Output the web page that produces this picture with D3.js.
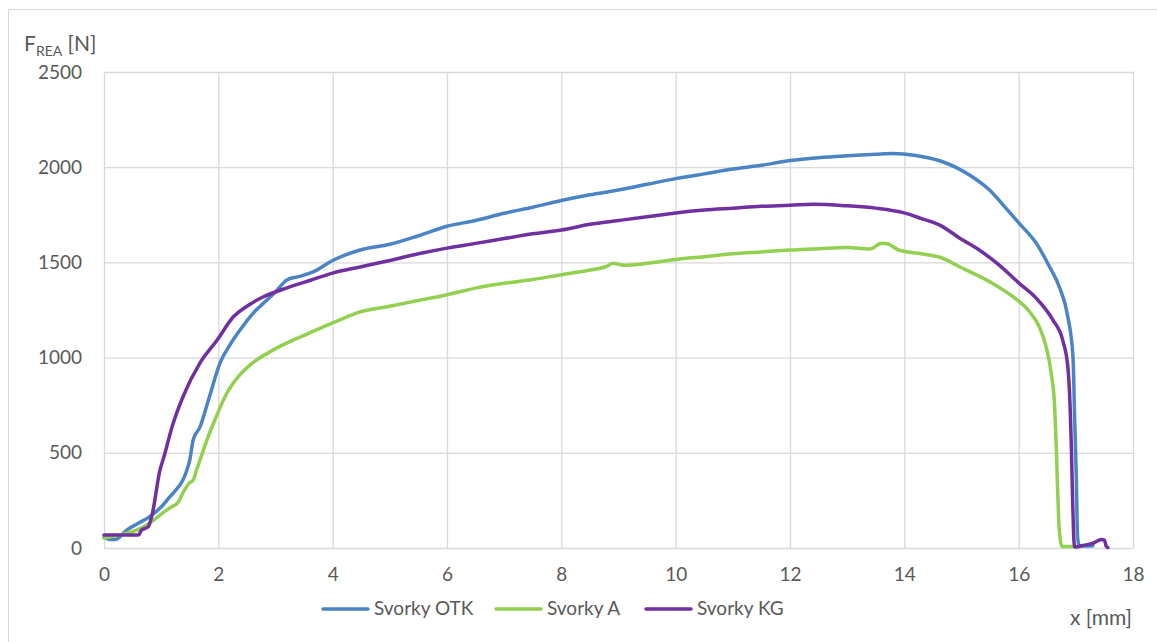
<!DOCTYPE html>
<html>
<head>
<meta charset="utf-8">
<script src="https://cdn.jsdelivr.net/npm/d3@7"></script>
<style>
  html, body { margin: 0; padding: 0; background: #fff; }
  svg text { font-family: Lato, "Open Sans", sans-serif; fill: #595959; }
</style>
</head>
<body>
<svg id="chart" width="1157" height="642"></svg>
<script>
// Displacement x [mm] and reaction force F_REA [N] for each clamp type
const xOTK = [0, 0.1, 0.2, 0.4, 0.6, 0.8, 1.0, 1.15, 1.3, 1.38, 1.45, 1.5, 1.56, 1.68, 1.85, 2.03, 2.2, 2.38, 2.6, 2.85, 3.0, 3.2, 3.4, 3.66, 4.0, 4.48, 5.0, 5.5, 6.0, 6.5, 7.0, 7.5, 8.0, 8.5, 9.0, 9.5, 10.0, 10.5, 11.0, 11.5, 12.0, 12.5, 13.0, 13.5, 13.8, 14.2, 14.62, 15.14, 15.49, 15.78, 16.01, 16.31, 16.54, 16.71, 16.86, 16.95, 16.98, 17.01, 17.03, 17.06, 17.3];
const fOTK = [55, 45, 45, 95, 130, 165, 215, 268, 320, 357, 410, 462, 567, 636, 800, 972, 1065, 1145, 1230, 1302, 1345, 1408, 1425, 1450, 1510, 1565, 1595, 1640, 1690, 1720, 1758, 1790, 1825, 1855, 1880, 1910, 1940, 1965, 1990, 2010, 2035, 2050, 2060, 2068, 2072, 2062, 2034, 1959, 1880, 1784, 1705, 1600, 1477, 1372, 1215, 1005, 672, 350, 60, 10, 12];

const xA = [0, 0.3, 0.58, 0.8, 0.98, 1.15, 1.3, 1.4, 1.49, 1.56, 1.62, 1.68, 1.8, 1.95, 2.15, 2.35, 2.6, 2.9, 3.2, 3.6, 4.0, 4.48, 5.0, 5.5, 6.0, 6.5, 7.0, 7.5, 8.0, 8.5, 8.8, 8.9, 9.1, 9.5, 10.0, 10.5, 11.0, 11.5, 12.0, 12.5, 13.0, 13.4, 13.6, 13.7, 13.9, 14.3, 14.62, 15.02, 15.49, 15.9, 16.19, 16.36, 16.48, 16.57, 16.63, 16.66, 16.68, 16.7, 16.73, 16.76, 16.95];
const fA = [52, 70, 95, 130, 173, 210, 242, 300, 341, 357, 410, 462, 567, 680, 814, 900, 972, 1030, 1077, 1130, 1182, 1240, 1270, 1300, 1330, 1365, 1390, 1410, 1435, 1460, 1480, 1495, 1485, 1495, 1515, 1530, 1545, 1555, 1565, 1572, 1578, 1570, 1600, 1598, 1565, 1545, 1527, 1469, 1399, 1320, 1241, 1162, 1057, 917, 742, 515, 320, 150, 40, 8, 8];

const xKG = [0, 0.3, 0.6, 0.66, 0.77, 0.84, 0.98, 1.05, 1.19, 1.38, 1.68, 1.98, 2.26, 2.5, 2.78, 3.2, 3.6, 4.0, 4.48, 5.0, 5.5, 6.0, 6.5, 7.0, 7.5, 8.0, 8.5, 9.0, 9.5, 10.0, 10.5, 11.0, 11.5, 12.0, 12.4, 13.0, 13.5, 14.0, 14.3, 14.62, 14.97, 15.31, 15.66, 16.01, 16.31, 16.6, 16.77, 16.86, 16.9, 16.92, 16.94, 16.96, 16.98, 17.1, 17.3, 17.45, 17.5, 17.53, 17.56];
const fKG = [68, 68, 68, 95, 110, 173, 410, 480, 636, 793, 972, 1092, 1213, 1270, 1318, 1366, 1405, 1444, 1476, 1510, 1545, 1575, 1600, 1625, 1650, 1670, 1700, 1720, 1740, 1760, 1775, 1785, 1795, 1800, 1805, 1797, 1785, 1760, 1730, 1696, 1627, 1565, 1486, 1390, 1311, 1197, 1092, 952, 742, 550, 300, 80, 5, 12, 25, 45, 42, 10, 2];

const seriesNames = ["Svorky OTK", "Svorky A", "Svorky KG"];
const seriesColors = ["#4a84c4", "#92d050", "#7030a0"];
const seriesX = [xOTK, xA, xKG];
const seriesF = [fOTK, fA, fKG];

const xTicks = [0, 2, 4, 6, 8, 10, 12, 14, 16, 18];
const yTicks = [0, 500, 1000, 1500, 2000, 2500];

const svg = d3.select("#chart");
const grid = "#d9d9d9";

// outer chart frame
svg.append("rect")
  .attr("x", 8.5).attr("y", 9.5)
  .attr("width", 1160).attr("height", 640)
  .attr("fill", "none").attr("stroke", grid).attr("stroke-width", 1);

const plot = { left: 104, right: 1133, top: 72, bottom: 548 };
const x = d3.scaleLinear().domain([0, 18]).range([plot.left, plot.right]);
const y = d3.scaleLinear().domain([0, 2500]).range([plot.bottom, plot.top]);

// gridlines
const g = svg.append("g");
g.selectAll("line.vg").data(xTicks).join("line")
  .attr("x1", d => x(d) + 0.5).attr("x2", d => x(d) + 0.5)
  .attr("y1", plot.top).attr("y2", plot.bottom)
  .attr("stroke", grid).attr("stroke-width", 1.3);
g.selectAll("line.hg").data(yTicks).join("line")
  .attr("x1", plot.left).attr("x2", plot.right)
  .attr("y1", d => y(d) + 0.5).attr("y2", d => y(d) + 0.5)
  .attr("stroke", grid).attr("stroke-width", 1.3);

// axes: tick labels only
const yAxis = d3.axisLeft(y).tickValues(yTicks).tickFormat(d3.format("d")).tickSize(0).tickPadding(22);
const ya = svg.append("g").attr("transform", `translate(${plot.left},0)`).call(yAxis);
ya.select(".domain").remove();
ya.selectAll("text").attr("font-size", 19).attr("font-family", "Lato, sans-serif").attr("fill", "#595959");

const xAxis = d3.axisBottom(x).tickValues(xTicks).tickFormat(d3.format("d")).tickSize(0).tickPadding(20);
const xa = svg.append("g").attr("transform", `translate(0,${plot.bottom})`).call(xAxis);
xa.select(".domain").remove();
xa.selectAll("text").attr("font-size", 19).attr("font-family", "Lato, sans-serif").attr("fill", "#595959");

// axis titles
const yt = svg.append("text").attr("x", 24).attr("y", 51).attr("font-size", 21);
yt.append("tspan").text("F");
yt.append("tspan").attr("font-size", 14).attr("dy", 5).text("REA");
yt.append("tspan").attr("dy", -5).text(" [N]");

svg.append("text").attr("x", 1132).attr("y", 625)
  .attr("text-anchor", "end").attr("font-size", 21).text("x [mm]");

// data lines
const line = d3.line().x(d => x(d[0])).y(d => y(d[1])).curve(d3.curveMonotoneX);
seriesNames.forEach((name, i) => {
  const pts = seriesX[i].map((v, k) => [v, seriesF[i][k]]);
  svg.append("path")
    .datum(pts)
    .attr("d", line)
    .attr("fill", "none")
    .attr("stroke", seriesColors[i])
    .attr("stroke-width", 3.5)
    .attr("stroke-linejoin", "round")
    .attr("stroke-linecap", "round");
});

// legend
const legendX = [323, 496, 646];
const leg = svg.append("g");
seriesNames.forEach((name, i) => {
  leg.append("line")
    .attr("x1", legendX[i]).attr("x2", legendX[i] + 45)
    .attr("y1", 609).attr("y2", 609)
    .attr("stroke", seriesColors[i]).attr("stroke-width", 3.5)
    .attr("stroke-linecap", "round");
  leg.append("text")
    .attr("x", legendX[i] + 51).attr("y", 615)
    .attr("font-size", 19).text(name);
});
</script>
</body>
</html>
